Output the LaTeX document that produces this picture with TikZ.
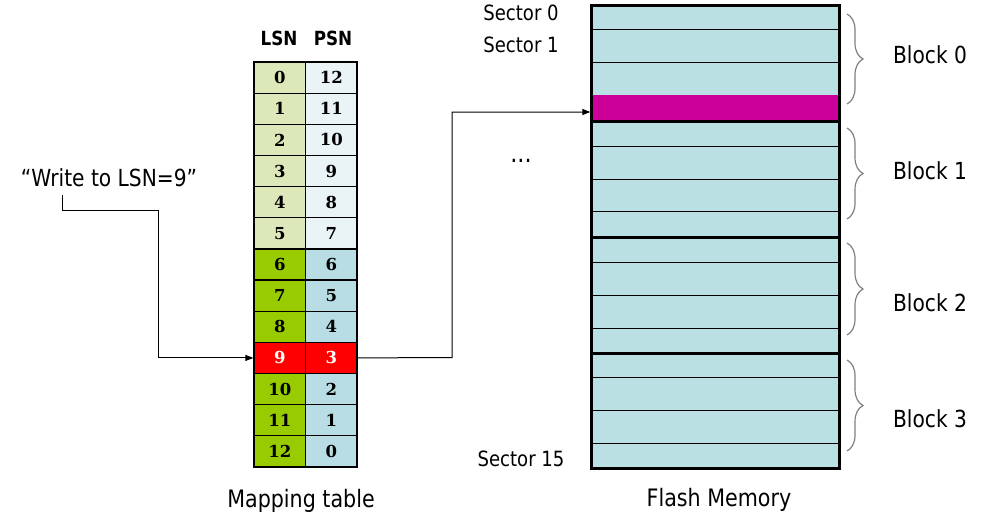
\documentclass[tikz,border=0pt]{standalone}
\usepackage{fontspec}
\setmainfont{DejaVu Sans}[FakeStretch=0.86]
\newfontfamily\numfont{DejaVu Serif}
\usetikzlibrary{decorations.pathreplacing,arrows.meta}
\definecolor{lightL}{HTML}{DDE8BA}
\definecolor{darkL}{HTML}{99CC00}
\definecolor{lightP}{HTML}{EAF3F5}
\definecolor{darkP}{HTML}{B8DDE4}
\definecolor{flashc}{HTML}{BBE0E3}
\definecolor{magc}{HTML}{CC0099}
\definecolor{redc}{HTML}{FF0000}
\begin{document}
\begin{tikzpicture}[x=1pt,y=-1pt,
  cell/.style={draw=black,line width=1.2pt,minimum width=51.5pt,minimum height=31.15pt,inner sep=0pt,
    font=\numfont\bfseries\fontsize{16.5}{18}\selectfont},
  hdr/.style={font=\bfseries\fontsize{19.5}{21}\selectfont},
  lbl/.style={font=\fontsize{23.5}{26}\selectfont},
  slbl/.style={font=\fontsize{21}{23}\selectfont},
  arr/.style={draw=black,line width=1pt,-{Triangle[length=8pt,width=6pt]}},
  brc/.style={draw=gray,line width=1.2pt,decorate,decoration={brace,amplitude=16pt}},
  thin/.style={line width=1pt},
  thick3/.style={line width=3pt}]
\useasboundingbox (0,0) rectangle (1000,522);
\fill[white] (0,0) rectangle (1000,522);

% headers
\node[hdr] (hl) at (279,38) {LSN};
\node[hdr] (hp) at (333,38) {PSN};

% table
\foreach \i/\p in {0/12,1/11,2/10,3/9,4/8,5/7,6/6,7/5,8/4,9/3,10/2,11/1,12/0}{
  \pgfmathsetmacro{\yy}{62+31.15*\i+15.575}
  \ifnum\i<6
    \node[cell,fill=lightL] (l\i) at (279.75,\yy) {\i};
    \node[cell,fill=lightP] (p\i) at (331.25,\yy) {\p};
  \else\ifnum\i=9
    \node[cell,fill=redc,text=white] (l\i) at (279.75,\yy) {\i};
    \node[cell,fill=redc,text=white] (p\i) at (331.25,\yy) {\p};
  \else
    \node[cell,fill=darkL] (l\i) at (279.75,\yy) {\i};
    \node[cell,fill=darkP] (p\i) at (331.25,\yy) {\p};
  \fi\fi
}

% write request
\node[lbl] (w) at (109,178) {“Write to LSN=9”};
\coordinate (ws) at (62,195);
\draw[arr] (ws) -- (62,210) -- (158,210) |- (l9.west);

% flash memory
\fill[flashc] (591,5) rectangle (839,468);
\foreach \y in {29,62,95,146,179,211,262,295,328,377,410,443}
  \draw[thin] (591,\y) -- (839,\y);
\node[fill=magc,minimum width=249pt,minimum height=26pt,inner sep=0pt] (mag) at (715,108) {};
\foreach \y in {121,237,353}
  \draw[thick3] (591,\y) -- (839,\y);
\draw[thick3] (591,5) rectangle (839,468);

\draw[arr] (p9.east) -- (452,357.5) |- ([yshift=-4pt]mag.west);

% sector labels
\node[slbl] (s0) at (521,13) {Sector 0};
\node[slbl] (s1) at (521,45) {Sector 1};
\node[font=\fontsize{26}{28}\selectfont] (dots) at (521,161) {...};
\node[slbl] (s15) at (521,459) {Sector 15};

% braces and blocks
\draw[brc] (847,14) -- (847,104);
\draw[brc] (847,128) -- (847,219);
\draw[brc] (847,243) -- (847,335);
\draw[brc] (847,360) -- (847,451);
\node[lbl] (b0) at (930,55) {Block 0};
\node[lbl] (b1) at (930,171) {Block 1};
\node[lbl] (b2) at (930,303) {Block 2};
\node[lbl] (b3) at (930,419) {Block 3};

% captions
\node[lbl,font=\fontsize{24}{26}\selectfont] (cap1) at (301,501) {Mapping table};
\node[lbl,font=\fontsize{24}{26}\selectfont] (cap2) at (719,500) {Flash Memory};
\end{tikzpicture}
\end{document}
